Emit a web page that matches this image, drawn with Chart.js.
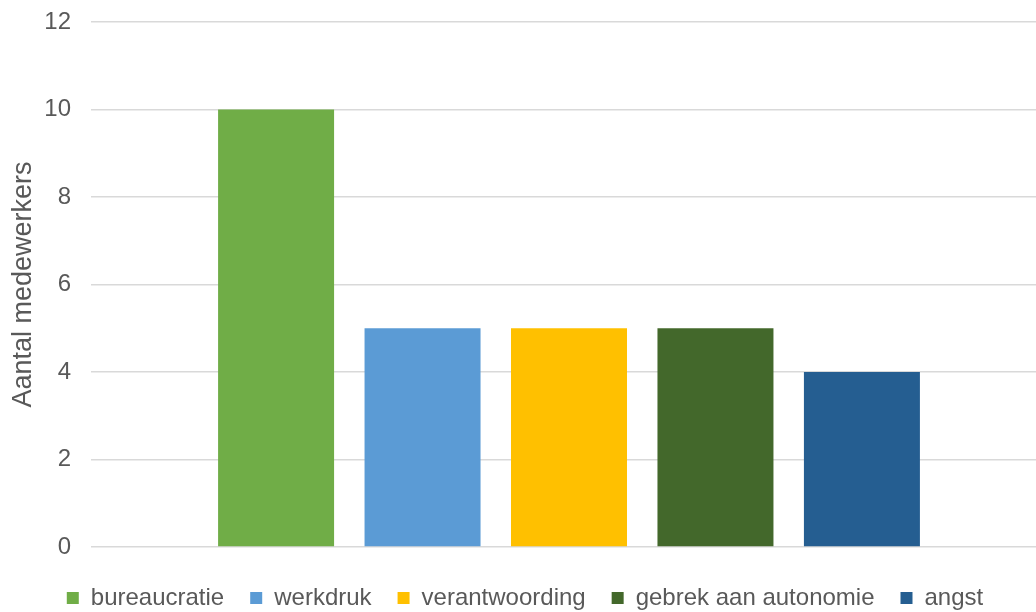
<!DOCTYPE html>
<html>
<head>
<meta charset="utf-8">
<script src="https://cdn.jsdelivr.net/npm/chart.js@4/dist/chart.umd.min.js"></script>
<style>
  html, body { margin: 0; padding: 0; background: #fff; overflow: hidden; }
  #wrap { width: 1047px; height: 612px; }
</style>
</head>
<body>
<div id="wrap"><canvas id="chart" width="1047" height="612"></canvas></div>
<script>
// data
const categories = [""];
const seriesNames = ["bureaucratie", "werkdruk", "verantwoording", "gebrek aan autonomie", "angst"];
const seriesValues = [10, 5, 5, 5, 4];
const seriesColors = ["#70ad47", "#5b9bd5", "#ffc000", "#43682b", "#255e91"];
const yTicks = [0, 2, 4, 6, 8, 10, 12];
const yTitle = "Aantal medewerkers";

const textColor = "#595959";
const fontFamily = "'Liberation Sans', Arial, sans-serif";

const datasets = seriesNames.map((name, i) => ({
    label: name,
    data: [seriesValues[i]],
    backgroundColor: seriesColors[i],
    borderWidth: 0,
    categoryPercentage: 0.766,
    barPercentage: 0.792
}));

new Chart(document.getElementById("chart").getContext("2d"), {
    type: "bar",
    data: { labels: categories, datasets },
    options: {
        responsive: false,
        animation: false,
        layout: { padding: { left: 3, top: 22, right: 0, bottom: 0 } },
        plugins: {
            tooltip: { enabled: false },
            legend: {
                position: "bottom",
                maxHeight: 52,
                labels: {
                    color: textColor,
                    font: { family: fontFamily, size: 24 },
                    boxWidth: 12,
                    boxHeight: 12,
                    padding: 26
                }
            }
        },
        scales: {
            x: {
                display: true,
                grid: { display: false, drawTicks: false },
                border: { display: false },
                ticks: { display: false },
                afterFit(scale) { scale.height = 13; } // ruimte tussen as en legenda
            },
            y: {
                min: 0,
                max: 12,
                afterBuildTicks(scale) { scale.ticks = yTicks.map(v => ({ value: v })); },
                afterFit(scale) {
                    scale.width = 88; // plotgebied begint bij x=91
                    scale.paddingTop = 0;
                    scale.paddingBottom = 0;
                },
                grid: { color: "#d9d9d9", lineWidth: 1.5, drawTicks: false },
                border: { display: false },
                ticks: {
                    color: textColor,
                    font: { family: fontFamily, size: 24 },
                    padding: 20
                },
                title: {
                    display: true,
                    text: yTitle,
                    color: textColor,
                    font: { family: fontFamily, size: 27 },
                    padding: { top: 4, bottom: 4 }
                }
            }
        }
    }
});
</script>
</body>
</html>
